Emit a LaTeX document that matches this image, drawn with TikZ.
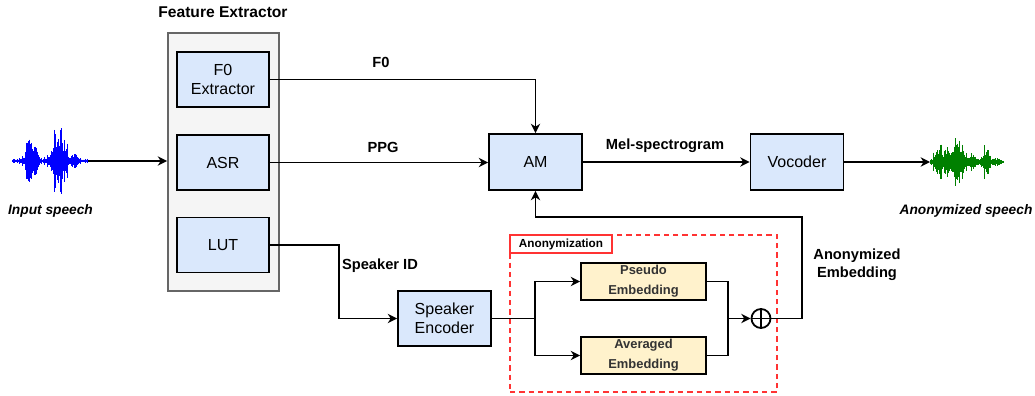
\documentclass[tikz,border=0pt]{standalone}
\usepackage{fontspec}
\setmainfont{Liberation Sans}
\usetikzlibrary{arrows.meta,calc}
\definecolor{boxblue}{HTML}{DAE8FC}
\definecolor{boxyellow}{HTML}{FFF2CC}
\definecolor{contfill}{HTML}{F5F5F5}
\definecolor{contdraw}{HTML}{666666}
\definecolor{anonred}{HTML}{FF3333}
\definecolor{wblue}{HTML}{0000FF}
\definecolor{wgreen}{HTML}{008000}
\begin{document}
\begin{tikzpicture}[x=0.75pt,y=-0.75pt,
  ln/.style={line width=1.35pt},
  arr/.style={ln,-{Stealth[length=7pt,width=7pt,inset=2.2pt]}},
  bluebox/.style={draw,line width=1.35pt,fill=boxblue,minimum width=69.75pt,minimum height=42pt,inner sep=0pt,align=center,font=\fontsize{12}{14.5}\selectfont},
  embbox/.style={draw,line width=1.35pt,fill=boxyellow,minimum width=93.75pt,minimum height=27.75pt,inner sep=0pt,align=center,text=black!80,font=\bfseries\fontsize{9.7}{15}\selectfont},
  lbl/.style={font=\bfseries\fontsize{11}{13.5}\selectfont,inner sep=0pt,align=center},
  ilbl/.style={font=\bfseries\itshape\fontsize{10.3}{12}\selectfont,inner sep=0pt},
  wavein/.style={wblue,line width=0.4pt},
  waveout/.style={wgreen,line width=0.4pt}]
\useasboundingbox (0,0) rectangle (1035,396);

% Feature extractor container
\node[draw=contdraw,fill=contfill,line width=1.35pt,minimum width=83.25pt,minimum height=193.5pt,inner sep=0pt] (fe) at (223.5,162) {};
\node[lbl,font=\bfseries\fontsize{11.7}{14}\selectfont] (fetitle) at (223,12) {Feature Extractor};
\node[bluebox,minimum width=69pt,minimum height=41.25pt] (f0) at (223,79.5) {F0\\Extractor};
\node[bluebox,minimum width=69pt,minimum height=41.25pt] (asr) at (223,162.5) {ASR};
\node[bluebox,minimum width=69pt,minimum height=41.25pt] (lut) at (223,245) {LUT};

% main blocks
\node[bluebox] (am) at (535.5,162) {AM};
\node[bluebox] (voc) at (797,162) {Vocoder};
\node[bluebox,minimum height=41.25pt] (spk) at (444.5,318.5) {Speaker\\Encoder};

% anonymization block
\node[draw=anonred,dash pattern=on 4pt off 3pt,line width=1.2pt,minimum width=200.25pt,minimum height=117.75pt,inner sep=0pt] (anon) at (643.5,313.5) {};
\node[draw=anonred,fill=white,line width=1.2pt,minimum width=76.5pt,minimum height=13.5pt,inner sep=0pt,font=\bfseries\fontsize{8.8}{10}\selectfont] (anonlbl) at (561,244) {Anonymization};
\node[embbox] (pse) at (643.5,281.5) {Pseudo\\Embedding};
\node[embbox] (avg) at (643.5,355.5) {Averaged\\Embedding};
\node[draw,circle,line width=1.35pt,minimum size=14.25pt,inner sep=0pt] (op) at (761,318.5) {};
\draw[ln] (op.north) -- (op.south);
\draw[ln] (op.west) -- (op.east);

\coordinate (br) at (535,318.5);
\coordinate (mg) at (728,318.5);
\coordinate (fb) at (802,217);

% waveforms
\coordinate (win) at (88,161);
\coordinate (wout) at (930,162);
\pgfmathsetseed{21}
\draw[wavein,line width=0.8pt] (12,161) -- (88,161);
\foreach \i in {0,...,216}{
  \pgfmathsetmacro{\xx}{12+0.35*\i}
  \pgfmathsetmacro{\en}{1.3+11*exp(-(\xx-31)*(\xx-31)/40)+19*exp(-(\xx-29)*(\xx-29)/3)+10*exp(-(\xx-36)*(\xx-36)/5)+10*exp(-(\xx-58)*(\xx-58)/70)+13*exp(-(\xx-55)*(\xx-55)/3)+18*exp(-(\xx-61)*(\xx-61)/3)+8*exp(-(\xx-66)*(\xx-66)/5)+6*exp(-(\xx-75)*(\xx-75)/12)}
  \pgfmathsetmacro{\aa}{\en*(0.35+0.65*rnd)*(rnd>0.8 ? 1.8 : 1)}
  \draw[wavein] (\xx,161-\aa) -- (\xx,161+\aa);
}
\draw[waveout,line width=0.8pt] (930,162) -- (1003,162);
\foreach \i in {0,...,208}{
  \pgfmathsetmacro{\xx}{930+0.35*\i}
  \pgfmathsetmacro{\en}{1.3+11*exp(-(\xx-938)*(\xx-938)/25)+7*exp(-(\xx-948)*(\xx-948)/20)+20*exp(-(\xx-956)*(\xx-956)/3)+11*exp(-(\xx-960)*(\xx-960)/30)+5*exp(-(\xx-972)*(\xx-972)/25)+10*exp(-(\xx-986)*(\xx-986)/14)+3*exp(-(\xx-996)*(\xx-996)/16)}
  \pgfmathsetmacro{\aa}{\en*(0.35+0.65*rnd)*(rnd>0.8 ? 1.8 : 1)}
  \draw[waveout] (\xx,162-\aa) -- (\xx,162+\aa);
}
\node[ilbl] (inlbl) at (50.5,211) {Input speech};
\node[ilbl] (outlbl) at (966,211) {Anonymized speech};

% connectors
\draw[arr] (win) -- (win -| fe.west);
\draw[arr] (f0.east) -| (am.north);
\draw[arr] (asr.east) -- (asr.east -| am.west);
\draw[arr] (lut.east) -- ++(69,0) |- (spk.west);
\draw[arr] (am.east) -- (voc.west);
\draw[arr] (voc.east) -- (wout);
\draw[ln] (spk.east) -- (br);
\draw[arr] (br) |- (pse.west);
\draw[arr] (br) |- (avg.west);
\draw[ln] (pse.east) -| (mg);
\draw[ln] (avg.east) -| (mg);
\draw[arr] (mg) -- (op.west);
\draw[arr] (op.east) -| (fb) -| (am.south);

% labels
\node[lbl] (lf0) at (381,62) {F0};
\node[lbl] (lppg) at (383,147) {PPG};
\node[lbl] (lmel) at (665,146) {Mel-spectrogram};
\node[lbl] (lsid) at (380,266) {Speaker ID};
\node[lbl] (lemb) at (857,265) {Anonymized\\Embedding};
\end{tikzpicture}
\end{document}
